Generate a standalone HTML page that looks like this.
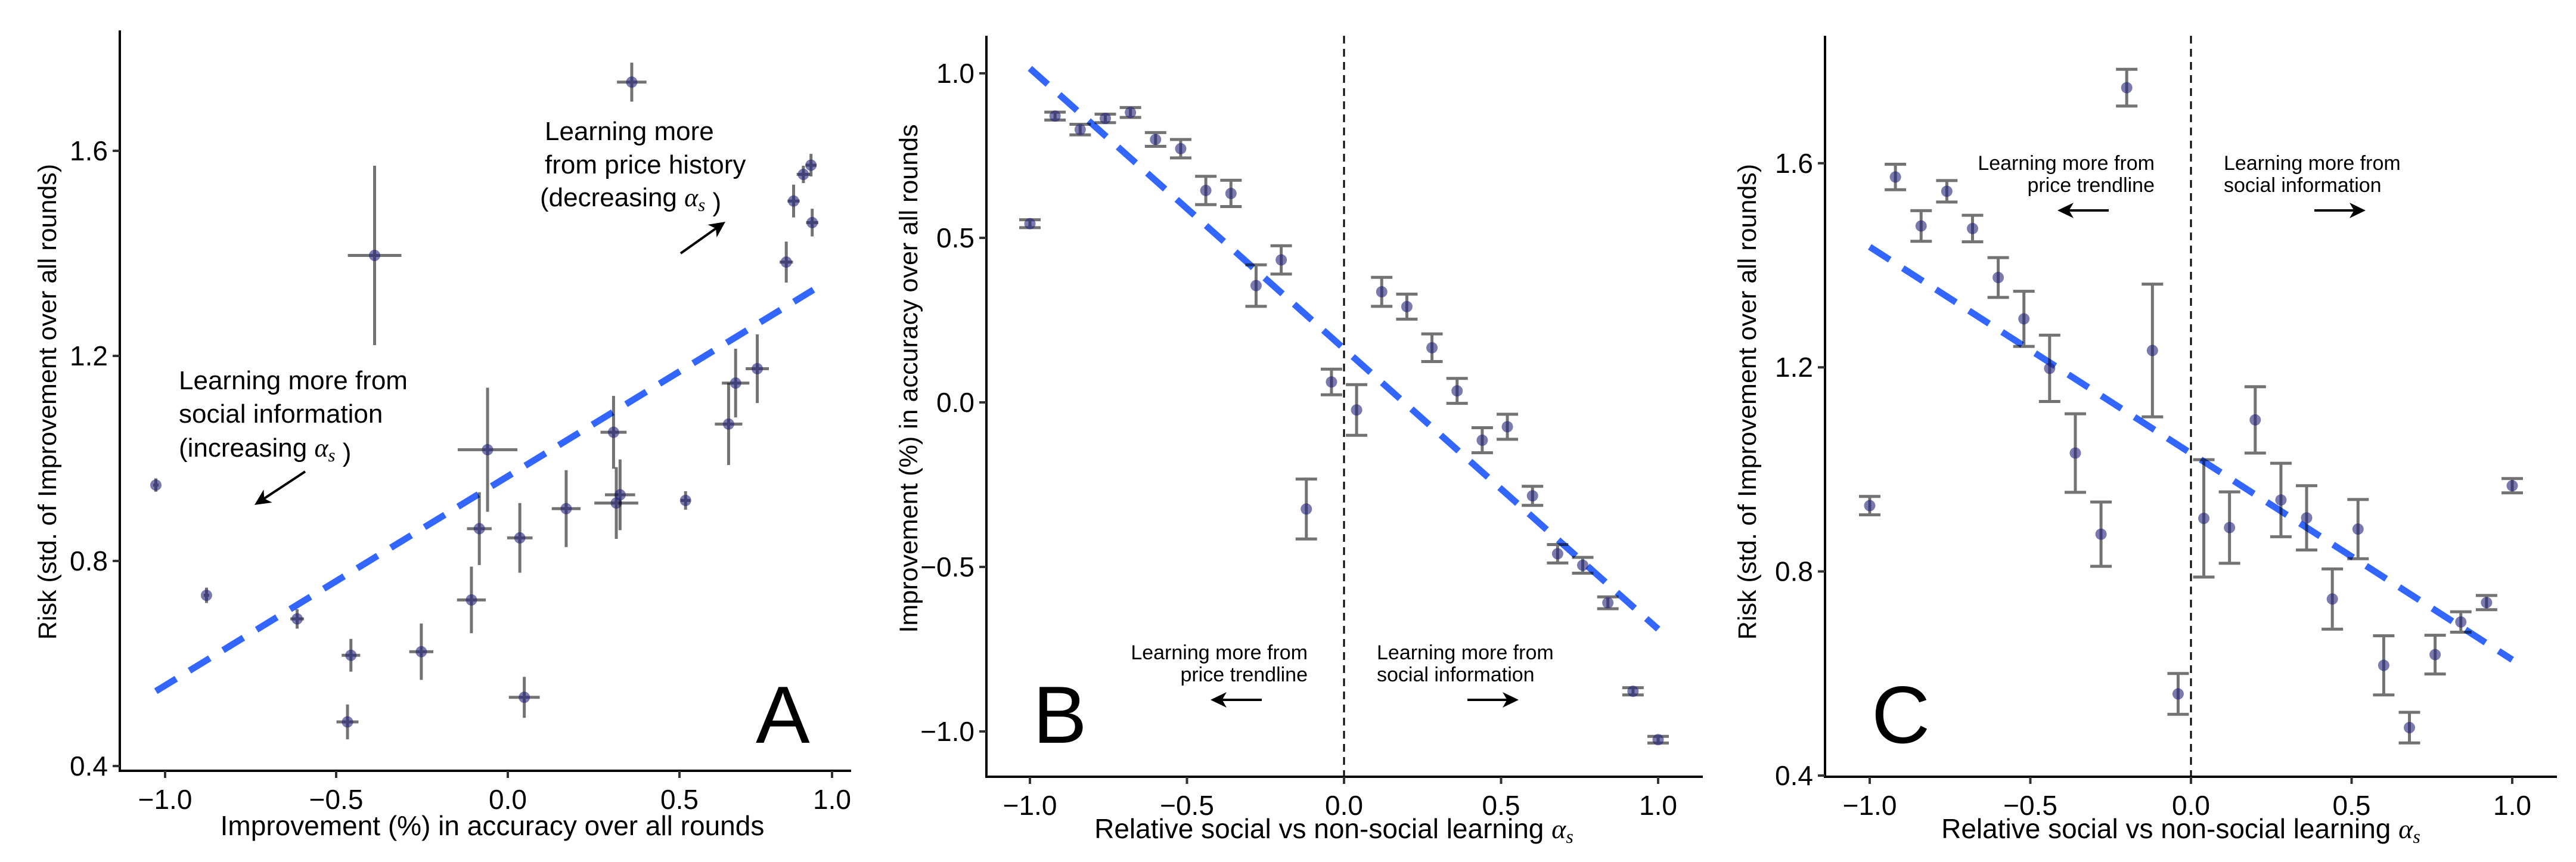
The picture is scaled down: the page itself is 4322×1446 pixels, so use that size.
<!DOCTYPE html>
<html><head><meta charset="utf-8"><style>
html,body{margin:0;padding:0;background:#fff;}
svg{display:block;font-family:"Liberation Sans",sans-serif;}
</style></head><body>
<svg id="fig" xmlns="http://www.w3.org/2000/svg" width="4322" height="1446" viewBox="0 0 4322 1446">
<rect width="4322" height="1446" fill="#fff"/>
<g id="pA"></g>
<g id="pB"></g>
<g id="pC"></g>
</svg>
<script>
// ---- Panel A data ----
const aX = [-1.027,-0.879,-0.614,-0.457,-0.467,-0.388,-0.252,-0.106,-0.083,-0.059,0.035,0.048,0.170,0.308,0.316,0.327,0.361,0.520,0.661,0.684,0.755,0.850,0.874,0.906,0.931,0.935];
const aY = [0.948,0.733,0.687,0.616,0.486,1.396,0.623,0.724,0.863,1.017,0.845,0.534,0.902,1.051,0.913,0.929,1.734,0.918,1.067,1.147,1.175,1.383,1.502,1.554,1.572,1.460];
const aXErr = [0.008,0.008,0.02,0.027,0.032,0.078,0.035,0.042,0.036,0.087,0.037,0.045,0.042,0.038,0.064,0.044,0.043,0.016,0.045,0.045,0.038,0.022,0.02,0.022,0.018,0.02];
const aYErr = [0.013,0.015,0.019,0.032,0.034,0.175,0.055,0.065,0.071,0.121,0.068,0.040,0.075,0.071,0.070,0.069,0.038,0.018,0.080,0.067,0.067,0.040,0.032,0.017,0.022,0.027];
const aTrend = [[-1.027,0.546],[0.939,1.329]];
const aXTicks = [-1.0,-0.5,0.0,0.5,1.0];
const aXTickLabels = ["\u22121.0","\u22120.5","0.0","0.5","1.0"];
const aYTicks = [0.4,0.8,1.2,1.6];
const aYTickLabels = ["0.4","0.8","1.2","1.6"];
// ---- Panel B / C data (alpha_s) ----
const alphaS = [-1,-0.92,-0.84,-0.76,-0.68,-0.6,-0.52,-0.44,-0.36,-0.28,-0.2,-0.12,-0.04,0.04,0.12,0.2,0.28,0.36,0.44,0.52,0.6,0.68,0.76,0.84,0.92,1.0];
const bVal = [0.543,0.870,0.829,0.863,0.881,0.799,0.771,0.644,0.635,0.355,0.433,-0.324,0.062,-0.023,0.336,0.291,0.166,0.035,-0.115,-0.074,-0.284,-0.460,-0.495,-0.609,-0.878,-1.025];
const bErr = [0.012,0.012,0.016,0.013,0.015,0.021,0.028,0.043,0.040,0.063,0.043,0.091,0.039,0.077,0.044,0.038,0.042,0.038,0.038,0.038,0.029,0.028,0.024,0.018,0.011,0.010];
const bTrend = [[-1,1.015],[1,-0.689]];
const bYTicks = [-1.0,-0.5,0.0,0.5,1.0];
const bYTickLabels = ["\u22121.0","\u22120.5","0.0","0.5","1.0"];
const cVal = [0.929,1.573,1.477,1.545,1.472,1.376,1.295,1.198,1.032,0.873,1.748,1.233,0.560,0.904,0.886,1.097,0.940,0.905,0.746,0.883,0.616,0.494,0.637,0.701,0.739,0.968];
const cErr = [0.018,0.025,0.030,0.021,0.026,0.039,0.054,0.065,0.077,0.063,0.036,0.130,0.040,0.115,0.070,0.065,0.072,0.063,0.059,0.058,0.058,0.030,0.038,0.020,0.014,0.014];
const cTrend = [[-1,1.436],[1,0.627]];
const cYTicks = [0.4,0.8,1.2,1.6];
const cYTickLabels = ["0.4","0.8","1.2","1.6"];
const alphaTicks = [-1.0,-0.5,0.0,0.5,1.0];
const alphaTickLabels = ["\u22121.0","\u22120.5","0.0","0.5","1.0"];

const NS="http://www.w3.org/2000/svg";
function mk(parent,tag,attrs){const e=document.createElementNS(NS,tag);for(const k in attrs)e.setAttribute(k,attrs[k]);parent.appendChild(e);return e;}
function interp(ticks,pos,v){for(let i=0;i<ticks.length-1;i++){if(v<=ticks[i+1]||i===ticks.length-2){return pos[i]+(v-ticks[i])/(ticks[i+1]-ticks[i])*(pos[i+1]-pos[i]);}}}
const PT="#22227a", BAR="rgba(0,0,0,0.55)";

function axes(g,o){
  let l=mk(g,'line',{x1:o.ax,y1:o.top,x2:o.ax,y2:o.ay+2,stroke:'#000','stroke-width':4});
  
  
  l=mk(g,'line',{x1:o.ax-2,y1:o.ay,x2:o.right,y2:o.ay,stroke:'#000','stroke-width':4});
  
  
  o.xt.forEach((v,i)=>{const x=o.sx(v);
    const t=mk(g,'line',{x1:x,y1:o.ay,x2:x,y2:o.ay+12,stroke:'#333','stroke-width':4});
    
    
    const tx=mk(g,'text',{x:x,y:o.ay+64,'font-size':46,'text-anchor':'middle',fill:'#000'});
    tx.textContent=o.xl[i];
    
    
  });
  o.yt.forEach((v,i)=>{const y=o.sy(v);
    const t=mk(g,'line',{x1:o.ax-12,y1:y,x2:o.ax,y2:y,stroke:'#333','stroke-width':4});
    
    
    const tx=mk(g,'text',{x:o.ax-20,y:y+16,'font-size':46,'text-anchor':'end',fill:'#000'});
    tx.textContent=o.yl[i];
    
    
  });
}
function trend(g,sx,sy,tr){
  const l=mk(g,'line',{x1:sx(tr[0][0]),y1:sy(tr[0][1]),x2:sx(tr[1][0]),y2:sy(tr[1][1]),stroke:'#3366FF','stroke-width':11,'stroke-dasharray':'40 26'});
  
  
}
function point(g,x,y){
  const c=mk(g,'circle',{cx:x,cy:y,r:9.5,fill:PT,'fill-opacity':0.6});
  
  
}
function vline(g,x,top,bot){
  const l=mk(g,'line',{x1:x,y1:top,x2:x,y2:bot,stroke:'#000','stroke-width':3,'stroke-dasharray':'13 9'});
  
  
}
function arrow(g,x1,y1,x2,y2){
  const a=Math.atan2(y2-y1,x2-x1),L=30,W=0.45;
  const gg=mk(g,'g',{});
  
  
  mk(gg,'line',{x1:x1,y1:y1,x2:x2-Math.cos(a)*18,y2:y2-Math.sin(a)*18,stroke:'#000','stroke-width':4});
  mk(gg,'polygon',{points:`${x2},${y2} ${x2-L*Math.cos(a-W)},${y2-L*Math.sin(a-W)} ${x2-L*0.65*Math.cos(a)},${y2-L*0.65*Math.sin(a)} ${x2-L*Math.cos(a+W)},${y2-L*Math.sin(a+W)}`,fill:'#000'});
}
function text(g,name,x,y,size,anchor,html,extra){
  const t=mk(g,'text',Object.assign({x:x,y:y,'font-size':size,'text-anchor':anchor,fill:'#000'},extra||{}));
  t.innerHTML=html;
  
  
  return t;
}
const ALPHA='<tspan font-family="Liberation Serif, serif" font-style="italic">α</tspan><tspan font-family="Liberation Serif, serif" font-style="italic" font-size="0.7em" dy="8">s</tspan>';

// ---- Panel A ----
(function(){
  const g=document.getElementById('pA');
  const sx=v=>interp(aXTicks,[277,564,852,1140,1396],v);
  const sy=v=>1285-(v-0.4)*860;
  axes(g,{ax:201,ay:1293,top:51,right:1428,sx:sx,sy:sy,xt:aXTicks,xl:aXTickLabels,yt:aYTicks,yl:aYTickLabels});
  trend(g,sx,sy,aTrend);
  aX.forEach((v,i)=>{
    const x=sx(v),y=sy(aY[i]);
    const e=mk(g,'path',{d:`M${sx(v-aXErr[i])},${y}H${sx(v+aXErr[i])}M${x},${sy(aY[i]-aYErr[i])}V${sy(aY[i]+aYErr[i])}`,stroke:BAR,'stroke-width':5,fill:'none'});
    
    
    point(g,x,y);
  });
  text(g,'x-axis-title',826,1401,46,'middle','Improvement (%) in accuracy over all rounds');
  text(g,'y-axis-title',0,0,43,'middle','Risk (std. of Improvement over all rounds)',{transform:'translate(94,674) rotate(-90)'});
  text(g,'annotation-price-history',914,235,44,'start','Learning more');
  text(g,'annotation-price-history',914,291,44,'start','from price history');
  text(g,'annotation-price-history',906,346,44,'start','(decreasing '+ALPHA+' )');
  arrow(g,1142,425,1217,372);
  text(g,'annotation-social-info',300,653,44,'start','Learning more from');
  text(g,'annotation-social-info',300,709,44,'start','social information');
  text(g,'annotation-social-info',300,766,44,'start','(increasing '+ALPHA+' )');
  arrow(g,512,791,427,847);
  text(g,'panel-label-a',1268,1246,136,'start','A');
})();

function alphaPanel(gid,x0,unit,sy,vals,errs,tr,yt,yl,ax,right,ytitle,ytx,annY,label,labelX){
  const g=document.getElementById(gid);
  const sx=v=>x0+v*unit;
  axes(g,{ax:ax,ay:1303,top:60,right:right,sx:sx,sy:sy,xt:alphaTicks,xl:alphaTickLabels,yt:yt,yl:yl});
  vline(g,sx(0),60,1303);
  trend(g,sx,sy,tr);
  alphaS.forEach((a,i)=>{
    const x=sx(a),y1=sy(vals[i]+errs[i]),y2=sy(vals[i]-errs[i]);
    const e=mk(g,'path',{d:`M${x-18},${y1}H${x+18}M${x},${y1}V${y2}M${x-18},${y2}H${x+18}`,stroke:BAR,'stroke-width':5,fill:'none'});
    
    
    point(g,x,sy(vals[i]));
  });
  text(g,'x-axis-title',x0-17,1406,46,'middle','Relative social vs non-social learning '+ALPHA);
  text(g,'y-axis-title',0,0,43,'middle',ytitle,{transform:`translate(${ytx},${ytitle.startsWith('Risk')?674:635}) rotate(-90)`});
  const zx=sx(0);
  text(g,'annotation-price-trendline',zx-61,annY,34,'end','Learning more from');
  text(g,'annotation-price-trendline',zx-61,annY+37,34,'end','price trendline');
  arrow(g,zx-138,annY+68,zx-224,annY+68);
  text(g,'annotation-social-info',zx+55,annY,34,'start','Learning more from');
  text(g,'annotation-social-info',zx+55,annY+37,34,'start','social information');
  arrow(g,zx+207,annY+68,zx+293,annY+68);
  text(g,'panel-label-'+label.toLowerCase(),labelX,1246,136,'start',label);
}
alphaPanel('pB',2255,527,v=>675-552*v,bVal,bErr,bTrend,bYTicks,bYTickLabels,1655,2857,'Improvement (%) in accuracy over all rounds',1539,1106,'B',1733);
alphaPanel('pC',3676,539,v=>1301-(v-0.4)*856,cVal,cErr,cTrend,cYTicks,cYTickLabels,3062,4290,'Risk (std. of Improvement over all rounds)',2946,285,'C',3140);
</script>
</body></html>
